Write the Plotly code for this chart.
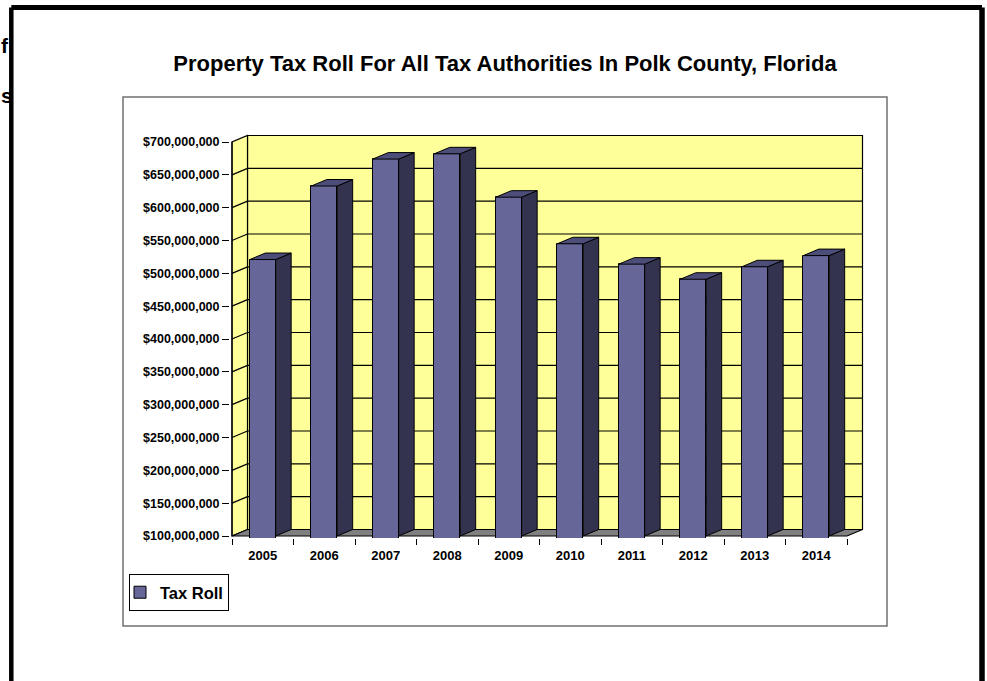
import plotly.graph_objects as go

# ---------------- data ----------------
years = [2005, 2006, 2007, 2008, 2009, 2010, 2011, 2012, 2013, 2014]
tax_roll = [521e6, 633e6, 674e6, 682e6, 616e6, 545e6, 514e6, 491e6, 510e6, 527e6]
y_tick_vals = [100e6 + 50e6 * i for i in range(13)]
series_name = "Tax Roll"
title_text = "Property Tax Roll For All Tax Authorities In Polk County, Florida"

# ---------------- geometry (pixels) ----------------
FIG_W, FIG_H = 987, 681
CAT_PX = 61.5                 # pixels per category
FRONT_LEFT_PX = 232           # front-plane left edge
FRONT_BOTTOM_PX = 536         # front-plane baseline
TOP_TICK_PX = 142             # pixel of top tick
PAD = 2                       # padding so edge lines are not clipped
L = FRONT_LEFT_PX - PAD
B = FRONT_BOTTOM_PX + PAD
R = 866
T = 132

BASE = y_tick_vals[0]
TOP = y_tick_vals[-1]
unit_per_px = (TOP - BASE) / (FRONT_BOTTOM_PX - TOP_TICK_PX)

x_first = years[0] - 0.5
x_last = years[-1] + 0.5
x_range = [x_first - PAD / CAT_PX, x_first + (R - FRONT_LEFT_PX) / CAT_PX]
y_range = [BASE - PAD * unit_per_px, BASE + (FRONT_BOTTOM_PX - T) * unit_per_px]

DX = 15.5 / CAT_PX            # depth offset in x units
DY = 6.5 * unit_per_px        # depth offset in y units
BAR_W = 0.42

FRONT_C = "#666699"
SIDE_C = "#33334F"
TOPF_C = "#4D4D7A"
WALL_C = "#FFFF99"
FLOOR_C = "#808080"
FONT = "Liberation Sans, Arial, sans-serif"

fig = go.Figure()

# front faces
fig.add_trace(go.Bar(
    x=years, y=tax_roll, width=BAR_W, name=series_name,
    marker=dict(color=FRONT_C, line=dict(color="black", width=1)),
    showlegend=True,
))

# side faces and top faces built from the same data
side_x, side_y, top_x, top_y = [], [], [], []
for xv, v in zip(years, tax_roll):
    xr = xv + BAR_W / 2
    xl = xv - BAR_W / 2
    side_x += [xr, xr + DX, xr + DX, xr, xr, None]
    side_y += [BASE, BASE + DY, v + DY, v, BASE, None]
    top_x += [xl, xr, xr + DX, xl + DX, xl, None]
    top_y += [v, v, v + DY, v + DY, v, None]

fig.add_trace(go.Scatter(x=side_x, y=side_y, mode="lines", fill="toself",
                         fillcolor=SIDE_C, line=dict(color="black", width=1),
                         showlegend=False, hoverinfo="skip"))
fig.add_trace(go.Scatter(x=top_x, y=top_y, mode="lines", fill="toself",
                         fillcolor=TOPF_C, line=dict(color="black", width=1),
                         showlegend=False, hoverinfo="skip"))

shapes = []
# back wall
shapes.append(dict(type="rect", xref="x", yref="y", layer="below",
                   x0=x_first + DX, x1=x_last + DX, y0=BASE + DY, y1=TOP + DY,
                   fillcolor=WALL_C, line=dict(color="black", width=1.2)))
# gridlines on back wall
for t in y_tick_vals[1:-1]:
    shapes.append(dict(type="line", xref="x", yref="y", layer="below",
                       x0=x_first + DX, x1=x_last + DX, y0=t + DY, y1=t + DY,
                       line=dict(color="black", width=1.2)))
# left wall
shapes.append(dict(type="path", xref="x", yref="y", layer="below",
                   path=f"M{x_first},{BASE} L{x_first + DX},{BASE + DY} "
                        f"L{x_first + DX},{TOP + DY} L{x_first},{TOP} Z",
                   fillcolor=WALL_C, line=dict(color="black", width=1.2)))
for t in y_tick_vals[1:-1]:
    shapes.append(dict(type="line", xref="x", yref="y", layer="below",
                       x0=x_first, x1=x_first + DX, y0=t, y1=t + DY,
                       line=dict(color="black", width=1.2)))
# floor
shapes.append(dict(type="path", xref="x", yref="y", layer="below",
                   path=f"M{x_first},{BASE} L{x_last},{BASE} "
                        f"L{x_last + DX},{BASE + DY} L{x_first + DX},{BASE + DY} Z",
                   fillcolor=FLOOR_C, line=dict(color="black", width=1.2)))


def px_x(p):
    return (p - L) / (R - L)


def px_y(p):
    return (B - p) / (B - T)


# chart frame
shapes.append(dict(type="rect", xref="paper", yref="paper", layer="below",
                   x0=px_x(123), x1=px_x(887), y0=px_y(626), y1=px_y(97),
                   line=dict(color="#707070", width=1.5)))
# page border
for (x0, y0, x1, y1, w) in [(11.3, 7.5, 11.3, 720, 4.5),
                            (11.3, 7.5, 982, 7.5, 5),
                            (982, 7.5, 982, 720, 5.5)]:
    shapes.append(dict(type="line", xref="paper", yref="paper",
                       x0=px_x(x0), x1=px_x(x1), y0=px_y(y0), y1=px_y(y1),
                       line=dict(color="black", width=w)))

annotations = [
    dict(text="f", xref="paper", yref="paper", x=px_x(-1), y=px_y(45),
         xanchor="left", yanchor="middle", showarrow=False,
         font=dict(family=FONT, size=21, color="black", weight="bold")),
    dict(text="s", xref="paper", yref="paper", x=px_x(-1), y=px_y(95),
         xanchor="left", yanchor="middle", showarrow=False,
         font=dict(family=FONT, size=21, color="black", weight="bold")),
]

fig.update_layout(
    width=FIG_W, height=FIG_H,
    margin=dict(l=L, r=FIG_W - R, t=T, b=FIG_H - B, pad=0),
    paper_bgcolor="white", plot_bgcolor="rgba(0,0,0,0)",
    title=dict(text=title_text, xref="container", yref="container",
               x=505 / FIG_W, y=1 - 63 / FIG_H, xanchor="center", yanchor="middle",
               font=dict(family=FONT, size=22, color="black", weight="bold")),
    shapes=shapes,
    annotations=annotations,
    showlegend=True,
    legend=dict(x=px_x(129), y=px_y(574), xanchor="left", yanchor="top",
                bordercolor="black", borderwidth=1, bgcolor="white",
                indentation=-10,
                font=dict(family=FONT, size=16.5, color="black", weight="bold")),
    bargap=0,
)

fig.update_xaxes(
    type="linear", range=x_range, showgrid=False, zeroline=False, showline=False,
    tickmode="array", tickvals=years, ticktext=[str(y) for y in years],
    ticks="outside", ticklen=5, tickcolor="rgba(0,0,0,0)",
    tickfont=dict(family=FONT, size=13, color="black", weight="bold"),
    minor=dict(tickmode="linear", tick0=x_first, dtick=1, ticks="outside",
               ticklen=6, tickwidth=1.2, tickcolor="black", showgrid=False),
    fixedrange=True,
)
fig.update_yaxes(
    range=y_range, showgrid=False, zeroline=False, showline=False,
    tickmode="array", tickvals=y_tick_vals, tickformat="$,.0f",
    ticks="outside", ticklen=7, tickwidth=1.2, tickcolor="black",
    tickfont=dict(family=FONT, size=12.5, color="black", weight="bold"),
    fixedrange=True,
)
# front vertical axis line
fig.add_shape(type="line", xref="x", yref="y", layer="below",
              x0=x_first, x1=x_first, y0=BASE, y1=TOP,
              line=dict(color="black", width=1.2))

fig.write_html("out.html")
